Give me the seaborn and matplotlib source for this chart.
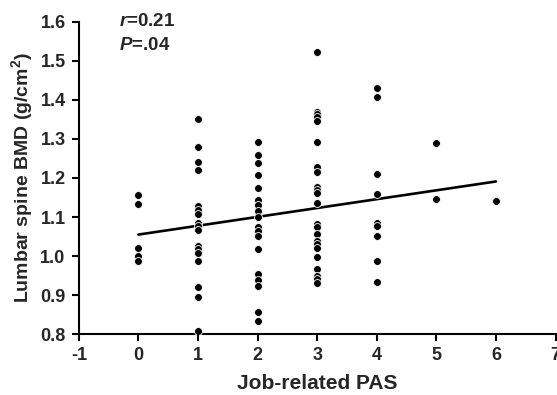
import numpy as np
import pandas as pd
import matplotlib
matplotlib.use("Agg")
import matplotlib.pyplot as plt
import seaborn as sns

# values, one list per PAS score
pas_scores = [0, 1, 2, 3, 4, 5, 6]
bmd_by_pas = [
    [1.156, 1.133, 1.020, 1.000, 0.988],
    [1.350, 1.279, 1.241, 1.221, 1.128, 1.118, 1.107, 1.084, 1.077, 1.067,
     1.027, 1.018, 1.007, 0.987, 0.922, 0.896, 0.809],
    [1.293, 1.260, 1.238, 1.208, 1.173, 1.144, 1.131, 1.116, 1.101, 1.075,
     1.065, 1.052, 1.018, 0.954, 0.938, 0.924, 0.856, 0.834],
    [1.523, 1.370, 1.363, 1.356, 1.346, 1.291, 1.229, 1.215, 1.176, 1.169,
     1.161, 1.136, 1.082, 1.074, 1.056, 1.038, 1.030, 1.020, 0.997, 0.968,
     0.949, 0.942, 0.930],
    [1.430, 1.407, 1.210, 1.158, 1.085, 1.077, 1.052, 0.987, 0.933],
    [1.289, 1.146],
    [1.140],
]
# fitted line as printed in the reference (end points)
fit_pas = [0, 6]
fit_bmd = [1.055, 1.191]

x_ticks = [-1, 0, 1, 2, 3, 4, 5, 6, 7]
y_ticks = [0.8, 0.9, 1.0, 1.1, 1.2, 1.3, 1.4, 1.5, 1.6]
stats_text = ["$r$=0.21", "$P$=.04"]

rows = [(p, b) for p, vals in zip(pas_scores, bmd_by_pas) for b in vals]
df = pd.DataFrame(rows, columns=["pas", "bmd"])
fit = pd.DataFrame({"pas": fit_pas, "bmd": fit_bmd})

sns.set_style("ticks")
plt.rcParams["font.family"] = ["Liberation Sans", "DejaVu Sans"]
plt.rcParams["font.weight"] = "bold"
plt.rcParams["axes.unicode_minus"] = False
plt.rcParams["mathtext.fontset"] = "custom"
plt.rcParams["mathtext.it"] = "Liberation Sans:italic:bold"
plt.rcParams["mathtext.rm"] = "Liberation Sans:bold"

fig = plt.figure(figsize=(5.57, 3.95), dpi=100)
ax = fig.add_axes([0.1415, 0.154, 0.856, 0.791])

sns.lineplot(data=fit, x="pas", y="bmd", ax=ax, color="black", lw=1.9)
sns.scatterplot(data=df, x="pas", y="bmd", ax=ax, s=32, color="black",
                edgecolor="white", linewidth=0.6, zorder=3)

ax.set_xlim(-1, 7)
ax.set_ylim(0.8, 1.6)
ax.set_xticks(x_ticks)
ax.set_yticks(y_ticks)
ax.set_yticklabels([f"{v:.1f}" for v in y_ticks])
ax.tick_params(axis="both", length=5, width=1.5, labelsize=13, pad=4.5,
               color="black")
for lab in ax.get_xticklabels() + ax.get_yticklabels():
    lab.set_fontweight("bold")
for side in ["top", "right"]:
    ax.spines[side].set_visible(False)
for side in ["left", "bottom"]:
    ax.spines[side].set_linewidth(1.5)
    ax.spines[side].set_color("black")

ax.set_xlabel("Job-related PAS", fontsize=15, fontweight="bold", labelpad=7)
ax.set_ylabel("Lumbar spine BMD (g/cm$^2$)", fontsize=14, fontweight="bold",
              labelpad=4)

ax.text(-0.33, 1.6, stats_text[0], fontsize=13.5, fontweight="bold",
        va="center", ha="left")
ax.text(-0.33, 1.54, stats_text[1], fontsize=13.5, fontweight="bold",
        va="center", ha="left")

fig.savefig("out.png", dpi=100)
